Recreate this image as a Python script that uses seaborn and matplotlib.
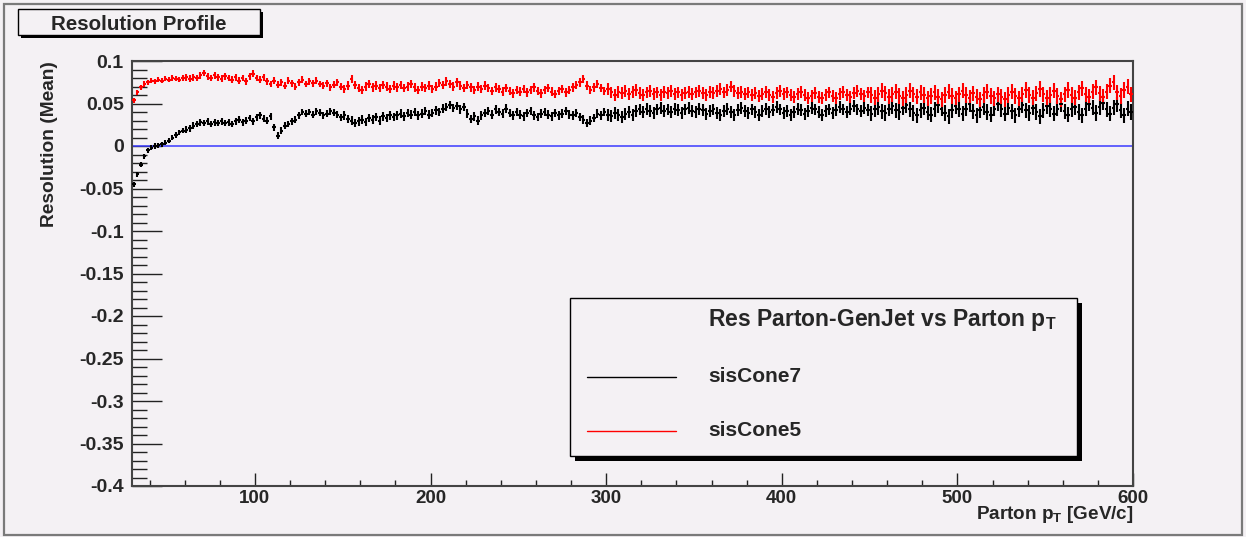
import numpy as np
import matplotlib
matplotlib.use("Agg")
import matplotlib.pyplot as plt
from matplotlib.patches import Rectangle
from matplotlib.lines import Line2D
from matplotlib.ticker import MultipleLocator, FuncFormatter
import seaborn as sns

# profile bins: 2 GeV wide, centres 31 ... 599 GeV/c
pt_first, pt_last, bin_width = 31, 599, 2

# sisCone7 mean resolution per bin (black)
sis7_mean = [
    -0.045, -0.033, -0.022, -0.012, -0.005, -0.002, 0.000, 0.001, 0.002, 0.004, 0.006, 0.010, 0.013, 0.016, 0.018, 0.019, 0.021, 0.024, 0.026, 0.028, 0.027, 0.029, 0.026, 0.028, 0.027,
    0.029, 0.027, 0.028, 0.026, 0.029, 0.031, 0.028, 0.030, 0.033, 0.029, 0.034, 0.036, 0.032, 0.030, 0.035, 0.022, 0.012, 0.018, 0.024, 0.026, 0.029, 0.031, 0.036, 0.040, 0.038,
    0.040, 0.037, 0.041, 0.039, 0.036, 0.038, 0.041, 0.039, 0.037, 0.034, 0.036, 0.032, 0.030, 0.027, 0.029, 0.031, 0.028, 0.033, 0.031, 0.034, 0.030, 0.035, 0.033, 0.036, 0.034,
    0.036, 0.038, 0.035, 0.039, 0.037, 0.040, 0.036, 0.038, 0.041, 0.037, 0.039, 0.042, 0.040, 0.044, 0.046, 0.048, 0.045, 0.047, 0.043, 0.046, 0.038, 0.032, 0.035, 0.030, 0.036,
    0.039, 0.041, 0.037, 0.043, 0.040, 0.038, 0.044, 0.039, 0.036, 0.040, 0.037, 0.035, 0.039, 0.041, 0.036, 0.034, 0.038, 0.040, 0.037, 0.035, 0.039, 0.036, 0.038, 0.041, 0.037,
    0.036, 0.039, 0.034, 0.031, 0.027, 0.030, 0.033, 0.038, 0.036, 0.040, 0.037, 0.035, 0.039, 0.036, 0.034, 0.038, 0.040, 0.037, 0.041, 0.043, 0.040, 0.044, 0.041, 0.039, 0.043,
    0.045, 0.041, 0.043, 0.040, 0.044, 0.042, 0.039, 0.043, 0.045, 0.041, 0.040, 0.044, 0.042, 0.038, 0.041, 0.043, 0.039, 0.036, 0.041, 0.044, 0.040, 0.037, 0.042, 0.045, 0.041,
    0.039, 0.043, 0.040, 0.036, 0.041, 0.044, 0.040, 0.042, 0.046, 0.043, 0.039, 0.041, 0.037, 0.040, 0.044, 0.042, 0.038, 0.041, 0.045, 0.043, 0.040, 0.037, 0.041, 0.043, 0.039,
    0.042, 0.046, 0.043, 0.040, 0.044, 0.047, 0.043, 0.041, 0.045, 0.042, 0.038, 0.043, 0.046, 0.041, 0.039, 0.044, 0.047, 0.042, 0.040, 0.045, 0.048, 0.043, 0.039, 0.036, 0.042,
    0.045, 0.040, 0.037, 0.043, 0.048, 0.044, 0.039, 0.035, 0.042, 0.047, 0.043, 0.038, 0.044, 0.049, 0.041, 0.036, 0.042, 0.046, 0.040, 0.037, 0.044, 0.050, 0.043, 0.038, 0.045,
    0.041, 0.036, 0.043, 0.048, 0.042, 0.039, 0.045, 0.040, 0.035, 0.042, 0.047, 0.043, 0.038, 0.044, 0.049, 0.041, 0.037, 0.043, 0.046, 0.040, 0.036, 0.044, 0.050, 0.045, 0.039,
    0.046, 0.051, 0.043, 0.038, 0.045, 0.049, 0.042, 0.036, 0.044, 0.040,
]

# sisCone5 mean resolution per bin (red)
sis5_mean = [
    0.054, 0.063, 0.069, 0.073, 0.075, 0.077, 0.076, 0.078, 0.077, 0.079, 0.078, 0.080, 0.079, 0.078, 0.080, 0.081, 0.079, 0.081, 0.080, 0.083, 0.086, 0.082, 0.080, 0.083, 0.081,
    0.079, 0.082, 0.080, 0.078, 0.081, 0.077, 0.080, 0.076, 0.082, 0.085, 0.080, 0.078, 0.081, 0.076, 0.073, 0.077, 0.072, 0.075, 0.071, 0.077, 0.074, 0.070, 0.075, 0.078, 0.073,
    0.076, 0.074, 0.077, 0.073, 0.071, 0.074, 0.069, 0.072, 0.075, 0.070, 0.067, 0.071, 0.079, 0.072, 0.068, 0.066, 0.070, 0.073, 0.069, 0.071, 0.068, 0.072, 0.070, 0.067, 0.071,
    0.069, 0.072, 0.068, 0.070, 0.073, 0.069, 0.066, 0.070, 0.068, 0.071, 0.067, 0.070, 0.074, 0.072, 0.076, 0.073, 0.070, 0.075, 0.071, 0.068, 0.072, 0.069, 0.066, 0.070, 0.067,
    0.071, 0.068, 0.065, 0.069, 0.067, 0.064, 0.068, 0.065, 0.062, 0.066, 0.064, 0.067, 0.063, 0.066, 0.069, 0.065, 0.062, 0.066, 0.068, 0.064, 0.061, 0.065, 0.067, 0.063, 0.066,
    0.069, 0.072, 0.075, 0.079, 0.071, 0.066, 0.069, 0.073, 0.068, 0.065, 0.067, 0.063, 0.060, 0.064, 0.062, 0.065, 0.061, 0.064, 0.066, 0.062, 0.060, 0.063, 0.065, 0.061, 0.063,
    0.060, 0.064, 0.062, 0.065, 0.061, 0.063, 0.060, 0.062, 0.064, 0.061, 0.063, 0.065, 0.062, 0.060, 0.064, 0.062, 0.065, 0.067, 0.063, 0.066, 0.070, 0.065, 0.062, 0.064, 0.061,
    0.063, 0.060, 0.062, 0.059, 0.061, 0.064, 0.060, 0.058, 0.062, 0.065, 0.061, 0.063, 0.060, 0.058, 0.061, 0.064, 0.060, 0.057, 0.059, 0.062, 0.058, 0.056, 0.060, 0.063, 0.059,
    0.057, 0.061, 0.064, 0.060, 0.058, 0.062, 0.065, 0.061, 0.059, 0.063, 0.060, 0.057, 0.061, 0.065, 0.062, 0.058, 0.061, 0.064, 0.059, 0.056, 0.060, 0.065, 0.061, 0.058, 0.063,
    0.060, 0.056, 0.059, 0.063, 0.058, 0.055, 0.060, 0.064, 0.059, 0.056, 0.061, 0.065, 0.060, 0.057, 0.062, 0.058, 0.055, 0.060, 0.064, 0.059, 0.056, 0.061, 0.058, 0.055, 0.060,
    0.064, 0.059, 0.056, 0.061, 0.066, 0.060, 0.057, 0.062, 0.067, 0.061, 0.057, 0.060, 0.065, 0.059, 0.055, 0.061, 0.066, 0.060, 0.057, 0.063, 0.068, 0.061, 0.058, 0.064, 0.069,
    0.062, 0.058, 0.064, 0.071, 0.075, 0.063, 0.059, 0.066, 0.070, 0.061,
]

# error on the mean, read per pT range
err_edges = [30, 60, 150, 300, 450, 601]
sis7_err = [0.003, 0.004, 0.005, 0.007, 0.009]
sis5_err = [0.003, 0.004, 0.005, 0.007, 0.009]

W, H = 1246, 537
bg = "#f4f1f4"

sns.set_theme(style="ticks")
plt.rcParams["font.family"] = ["Liberation Sans", "DejaVu Sans"]
plt.rcParams["font.weight"] = "bold"
plt.rcParams["axes.unicode_minus"] = False
plt.rcParams["mathtext.fontset"] = "custom"
plt.rcParams["mathtext.rm"] = "Liberation Sans:bold"
plt.rcParams["mathtext.bf"] = "Liberation Sans:bold"
plt.rcParams["mathtext.it"] = "Liberation Sans:bold"

pt = np.arange(pt_first, pt_last + 1, bin_width)
idx = np.digitize(pt, err_edges) - 1
e7 = np.array(sis7_err)[idx]
e5 = np.array(sis5_err)[idx]


def fx(x):
    return x / W


def fy(y):
    return 1 - y / H


fig = plt.figure(figsize=(W / 100, H / 100), dpi=100, facecolor=bg)

# outer canvas frame
fig.add_artist(Rectangle((fx(4), fy(535)), fx(1242) - fx(4), fy(4) - fy(535),
                         transform=fig.transFigure, fill=False, ec="#7a7a7a", lw=1.6))

ax = fig.add_axes([fx(132), fy(486), fx(1133) - fx(132), fy(61) - fy(486)])
ax.set_facecolor(bg)

ax.errorbar(pt, sis7_mean, xerr=bin_width / 2, yerr=e7, fmt="none",
            ecolor="black", elinewidth=1.5, capsize=0, zorder=3)
ax.errorbar(pt, sis5_mean, xerr=bin_width / 2, yerr=e5, fmt="none",
            ecolor="#ff0000", elinewidth=1.5, capsize=0, zorder=3)
sns.scatterplot(x=pt, y=sis7_mean, color="black", s=4, marker="s",
                linewidth=0, ax=ax, zorder=4, legend=False)
sns.scatterplot(x=pt, y=sis5_mean, color="#ff0000", s=4, marker="s",
                linewidth=0, ax=ax, zorder=4, legend=False)
ax.axhline(0, color="#3a3aff", lw=1.1, zorder=2)

ax.set_xlim(30, 600)
ax.set_ylim(-0.4, 0.1)
ax.xaxis.set_major_locator(MultipleLocator(100))
ax.xaxis.set_minor_locator(MultipleLocator(20))
ax.yaxis.set_major_locator(MultipleLocator(0.05))
ax.yaxis.set_minor_locator(MultipleLocator(0.01))
ax.yaxis.set_major_formatter(FuncFormatter(lambda v, p: "{:g}".format(round(v, 3) + 0.0)))
ax.xaxis.set_major_formatter(FuncFormatter(lambda v, p: "{:g}".format(v)))

ax.tick_params(axis="y", which="major", direction="in", length=21.6, width=1.0,
               color="#222222", labelsize=14, pad=6)
ax.tick_params(axis="y", which="minor", direction="in", length=10.8, width=1.0, color="#222222")
ax.tick_params(axis="x", which="major", direction="in", length=9.4, width=1.0,
               color="#222222", labelsize=13.5, pad=3)
ax.tick_params(axis="x", which="minor", direction="in", length=4.3, width=1.0, color="#222222")
ax.tick_params(top=False, right=False)
for lab in ax.get_xticklabels() + ax.get_yticklabels():
    lab.set_fontweight("bold")
for s in ax.spines.values():
    s.set_color("#444444")
    s.set_linewidth(1.5)

# axis titles, ROOT style (right / top aligned)
fig.text(fx(1133), fy(519), r"Parton p$_{\mathrm{T}}$ [GeV/c]", ha="right", va="baseline",
         fontsize=13.6, fontweight="bold")
fig.text(fx(50), fy(61), "Resolution (Mean)", rotation=90, ha="center", va="top",
         fontsize=13.8, fontweight="bold")

# title box with shadow
fig.add_artist(Rectangle((fx(21), fy(38)), fx(263) - fx(21), fy(12) - fy(38),
                         transform=fig.transFigure, fc="black", ec="none"))
fig.add_artist(Rectangle((fx(18), fy(35)), fx(260) - fx(18), fy(9) - fy(35),
                         transform=fig.transFigure, fc=bg, ec="black", lw=1.0))
fig.text(fx(139), fy(24), "Resolution Profile", ha="center", va="center",
         fontsize=14.8, fontweight="bold")

# legend box with shadow
fig.add_artist(Rectangle((fx(575), fy(461)), fx(1082) - fx(575), fy(303) - fy(461),
                         transform=fig.transFigure, fc="black", ec="none"))
fig.add_artist(Rectangle((fx(570), fy(456)), fx(1077) - fx(570), fy(298) - fy(456),
                         transform=fig.transFigure, fc=bg, ec="black", lw=1.0))
fig.text(fx(708), fy(320), r"Res Parton-GenJet vs Parton p$_{\mathrm{T}}$", ha="left",
         va="center", fontsize=16.5, fontweight="bold")
for yy, col, name in [(377, "black", "sisCone7"), (431, "#ff0000", "sisCone5")]:
    fig.add_artist(Line2D([fx(587), fx(676)], [fy(yy), fy(yy)], transform=fig.transFigure,
                          color=col, lw=1.0))
    fig.text(fx(708), fy(yy), name, ha="left", va="center", fontsize=15, fontweight="bold")

fig.savefig("out.png", dpi=100, facecolor=bg)
